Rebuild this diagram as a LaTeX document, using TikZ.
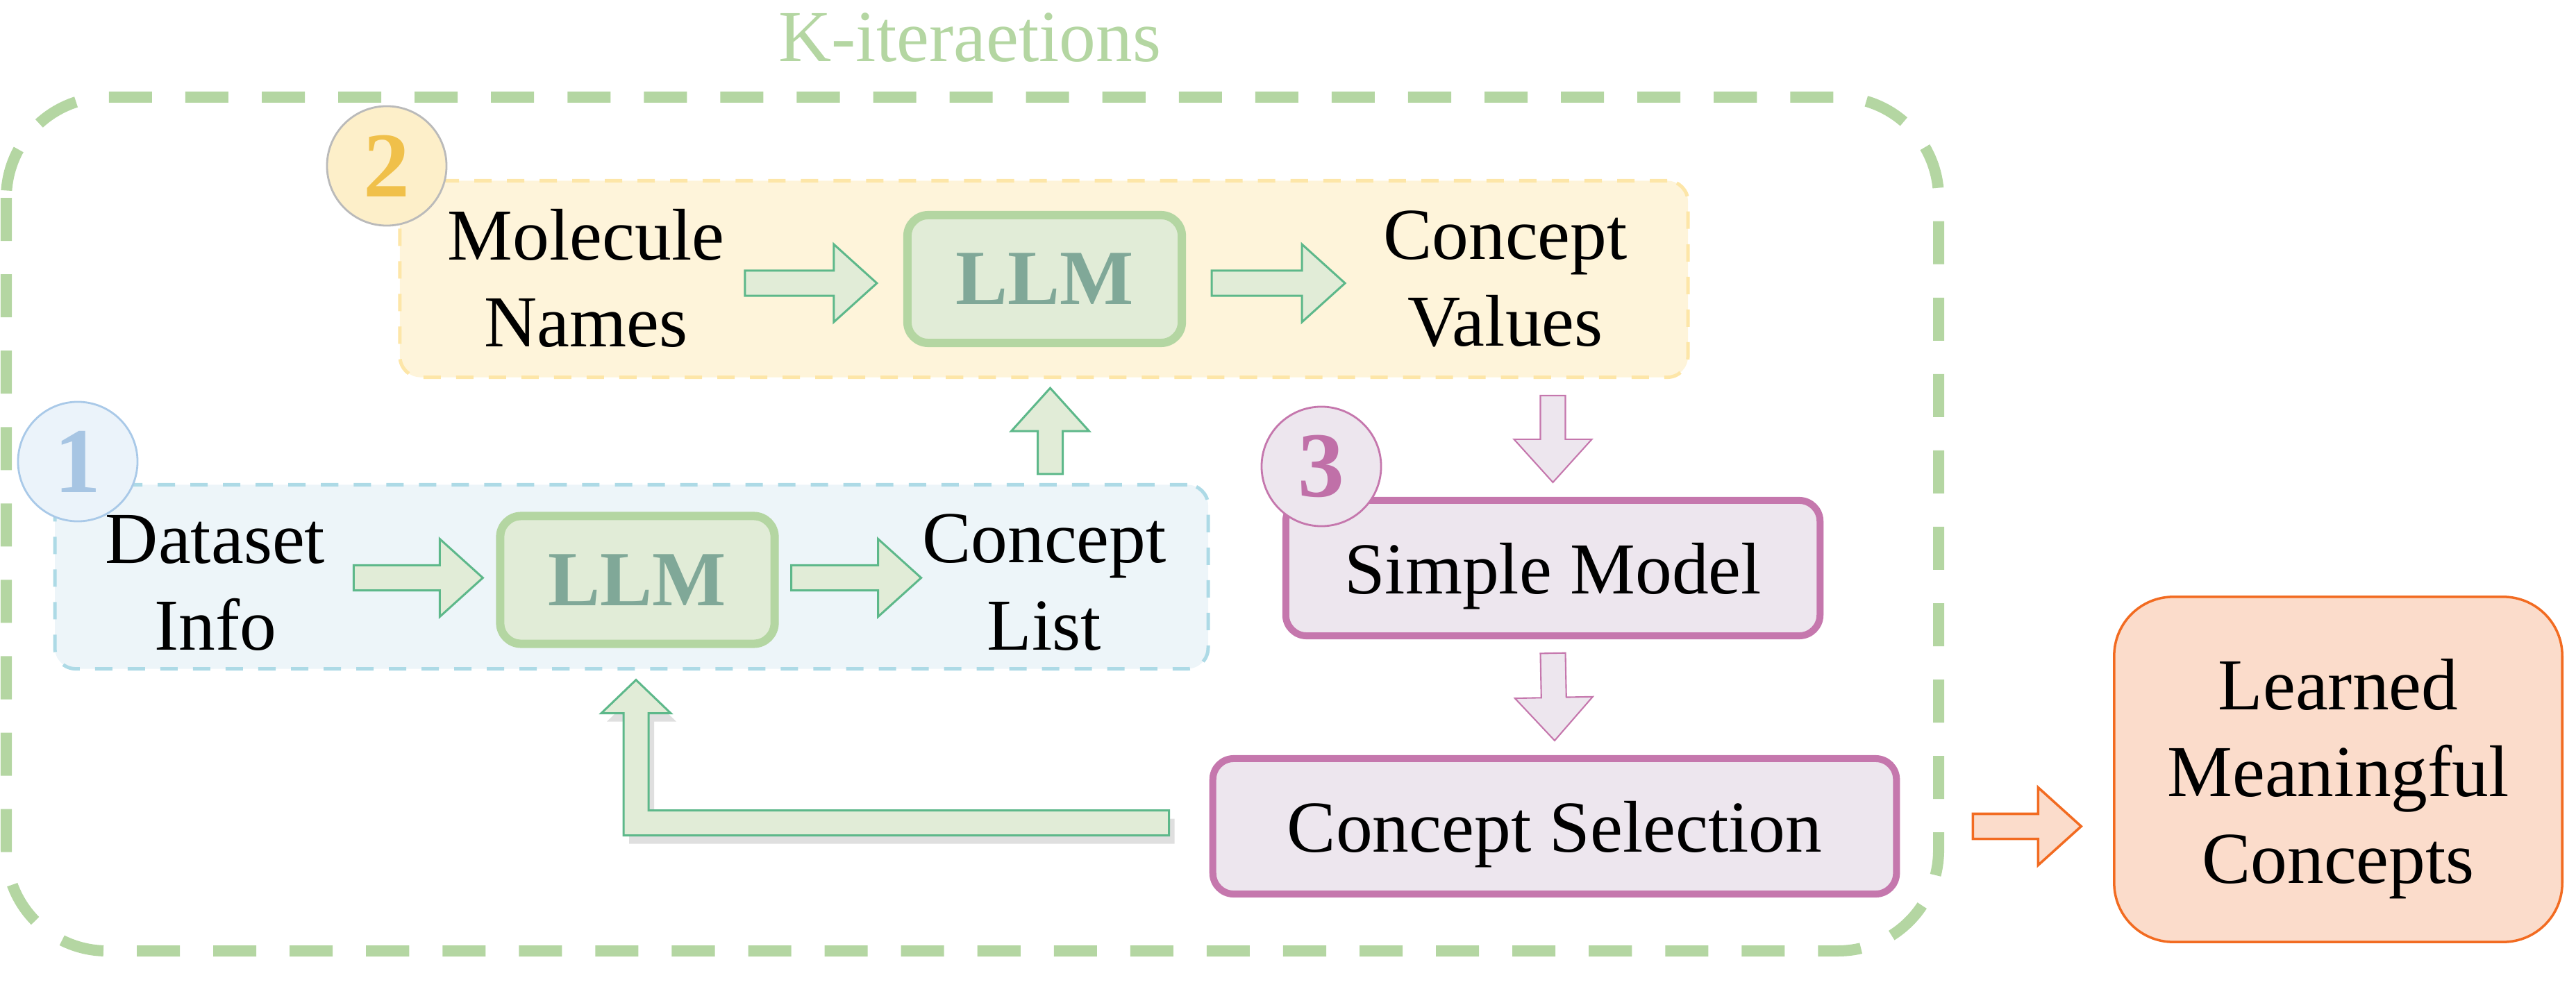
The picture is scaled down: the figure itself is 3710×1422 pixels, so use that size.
\documentclass[tikz,border=0pt]{standalone}
\usepackage{fontspec}
\setmainfont{Liberation Serif}
\usetikzlibrary{calc,shadows}

\definecolor{kgreen}{HTML}{B4D6A2}
\definecolor{llmfill}{HTML}{E1ECD7}
\definecolor{llmtext}{HTML}{80A898}
\definecolor{arrgreen}{HTML}{5DB88A}
\definecolor{yfill}{HTML}{FEF4DA}
\definecolor{yline}{HTML}{FDE6A8}
\definecolor{ycirc}{HTML}{FDEFC9}
\definecolor{ynum}{HTML}{F0C04A}
\definecolor{bfill}{HTML}{EDF5F9}
\definecolor{bline}{HTML}{ADDAE6}
\definecolor{bcirc}{HTML}{EBF3FA}
\definecolor{bcline}{HTML}{A9C9E8}
\definecolor{bnum}{HTML}{A7C5E3}
\definecolor{pline}{HTML}{C577AD}
\definecolor{pfill}{HTML}{EDE6EE}
\definecolor{pnum}{HTML}{C070A8}
\definecolor{oline}{HTML}{F26B21}
\definecolor{ofill}{HTML}{FBDCCB}

\tikzset{
  mtext/.style={font=\fontsize{30}{35.6}\selectfont, align=center, inner sep=0pt},
  numcircle/.style={circle, minimum size=1.72cm, inner sep=0pt, line width=0.8pt,
    font=\fontsize{38}{40}\selectfont\bfseries},
  llmbox/.style={draw=kgreen, fill=llmfill, line width=0.12cm, rounded corners=0.3cm,
    minimum width=3.95cm, minimum height=1.84cm, text=llmtext,
    font=\fontsize{32}{36}\selectfont\bfseries},
  stagebox/.style={dashed, line width=0.05cm, dash pattern=on 0.25cm off 0.22cm,
    rounded corners=0.3cm},
  purplebox/.style={draw=pline, fill=pfill, line width=0.1cm, rounded corners=0.3cm,
    minimum height=1.95cm, text depth=0pt, font=\fontsize{30}{35.6}\selectfont},
  greenarrow/.style={draw=arrgreen, fill=llmfill, line width=0.85pt, line join=miter},
  purplearrow/.style={draw=pline, fill=pfill, line width=0.6pt, line join=miter},
  orangearrow/.style={draw=oline, fill=ofill, line width=1pt, line join=miter},
  blockarrow/.style={to path={let \p1=(\tikztostart), \p2=(\tikztotarget),
      \n1={veclen(\x2-\x1,\y2-\y1)}, \n2={(\x2-\x1)/\n1}, \n3={(\y2-\y1)/\n1} in
      ({\x1-0.18cm*(\n3)},{\y1+0.18cm*(\n2)})
      -- ({\x2-0.62cm*(\n2)-0.18cm*(\n3)},{\y2-0.62cm*(\n3)+0.18cm*(\n2)})
      -- ({\x2-0.62cm*(\n2)-0.56cm*(\n3)},{\y2-0.62cm*(\n3)+0.56cm*(\n2)})
      -- (\x2,\y2)
      -- ({\x2-0.62cm*(\n2)+0.56cm*(\n3)},{\y2-0.62cm*(\n3)-0.56cm*(\n2)})
      -- ({\x2-0.62cm*(\n2)+0.18cm*(\n3)},{\y2-0.62cm*(\n3)-0.18cm*(\n2)})
      -- ({\x1+0.18cm*(\n3)},{\y1-0.18cm*(\n2)}) -- cycle}}
}

\begin{document}
\begin{tikzpicture}[x=0.01cm,y=-0.01cm,line join=bevel]
  \useasboundingbox (0,0) rectangle (3710,1422);
  % Group: K iterations
  \draw[kgreen, line width=0.16cm, dash pattern=on 0.62cm off 0.48cm,
    rounded corners=1.45cm] (9,140) rectangle (2792,1370);
  \node[mtext, text=kgreen, anchor=base] (kiter) at (1397,89) {K-iteraetions};
  % Node: stage two
  \node[stagebox, draw=yline, fill=yfill, minimum width=18.54cm, minimum height=2.83cm]
    (box2) at (1503.5,402) {};
  % Node: stage one
  \node[stagebox, draw=bline, fill=bfill, minimum width=16.6cm, minimum height=2.65cm]
    (box1) at (909.5,831) {};
  % Node: numbers
  \node[numcircle, draw=black!27, fill=ycirc, text=ynum] (two) at (557,239) {2};
  \node[numcircle, draw=bcline, fill=bcirc, text=bnum] (one) at (112,665) {1};
  % Node: LLMs
  \node[llmbox] (llmB) at (1504.5,402) {LLM};
  \node[llmbox] (llmA) at (918,835.5) {LLM};
  % Node: texts
  \node[mtext] (molN) at (844,401) {Molecule\\Names};
  \node[mtext] (valN) at (2168,402) {Concept\\Values};
  \node[mtext] (datN) at (310,840) {Dataset\\Info};
  \node[mtext] (lstN) at (1504,839) {Concept\\List};
  % Node: stage three
  \node[purplebox, minimum width=7.69cm] (simple) at (2236.5,818.5) {Simple Model};
  \node[purplebox, minimum width=9.84cm] (sel) at (2239,1190.5) {Concept Selection};
  \node[numcircle, draw=pline, fill=pfill, text=pnum] (three) at (1903,672) {3};
  % Node: result
  \node[draw=oline, fill=ofill, line width=1pt, rounded corners=0.85cm,
    minimum width=6.45cm, minimum height=4.97cm, mtext] (learned) at (3367.5,1108.5)
    {\rule{0pt}{28.4pt}Learned\\Meaningful\\Concepts};
  % Arrow ends
  \coordinate (molE) at ($(llmB.west)+(-228,6)$);
  \coordinate (llmBW) at ($(llmB.west)+(-38,6)$);
  \coordinate (llmBE) at ($(llmB.east)+(37,6)$);
  \coordinate (valW) at ($(llmB.east)+(229,6)$);
  \coordinate (datE) at ($(llmA.west)+(-205,-3)$);
  \coordinate (llmAW) at ($(llmA.west)+(-19,-3)$);
  \coordinate (llmAE) at ($(llmA.east)+(18,-3)$);
  \coordinate (lstW) at ($(llmA.east)+(205,-3)$);
  \coordinate (box1N) at ($(box1.north -| llmB.south)+(8,-13)$);
  \coordinate (box2S) at ($(box2.south -| llmB.south)+(8,13)$);
  \coordinate (valS) at ($(simple.north)+(0,-146)$);
  \coordinate (simpleN) at ($(simple.north)+(0,-21)$);
  \coordinate (simpleS) at ($(simple.south)+(0,20)$);
  \coordinate (selN) at ($(sel.north)+(0,-21)$);
  \coordinate (selE) at ($(sel.east)+(105,0)$);
  \coordinate (learnedW) at ($(sel.east)+(261,0)$);
  % Edge: molN -> llmB
  \draw[greenarrow] (molE) to[blockarrow] (llmBW);
  % Edge: llmB -> valN
  \draw[greenarrow] (llmBE) to[blockarrow] (valW);
  % Edge: datN -> llmA
  \draw[greenarrow] (datE) to[blockarrow] (llmAW);
  % Edge: llmA -> lstN
  \draw[greenarrow] (llmAE) to[blockarrow] (lstW);
  % Edge: box1 -> box2
  \draw[greenarrow] (box1N) to[blockarrow] (box2S);
  % Edge: valN -> simple
  \draw[purplearrow] (valS) to[blockarrow] (simpleN);
  % Edge: simple -> sel
  \draw[purplearrow] (simpleS) to[blockarrow] (selN);
  % Edge: sel -> learned
  \draw[orangearrow] (selE) to[blockarrow] (learnedW);
  % Edge: sel -> llmA
  \coordinate (fbS) at ($(sel.west)+(-58,-5)$);
  \coordinate (fbT) at ($(llmA.south)+(-2,46)$);
  \draw[greenarrow, drop shadow={shadow xshift=0.08cm, shadow yshift=-0.12cm,
      opacity=0.25}]
    ($(fbS)+(0,-18)$) -- ($(fbT |- fbS)+(18,-18)$) -- ($(fbT)+(18,48)$)
    -- ($(fbT)+(50,48)$) -- (fbT) -- ($(fbT)+(-50,48)$) -- ($(fbT)+(-18,48)$)
    -- ($(fbT |- fbS)+(-18,18)$) -- ($(fbS)+(0,18)$) -- cycle;
\end{tikzpicture}
\end{document}
